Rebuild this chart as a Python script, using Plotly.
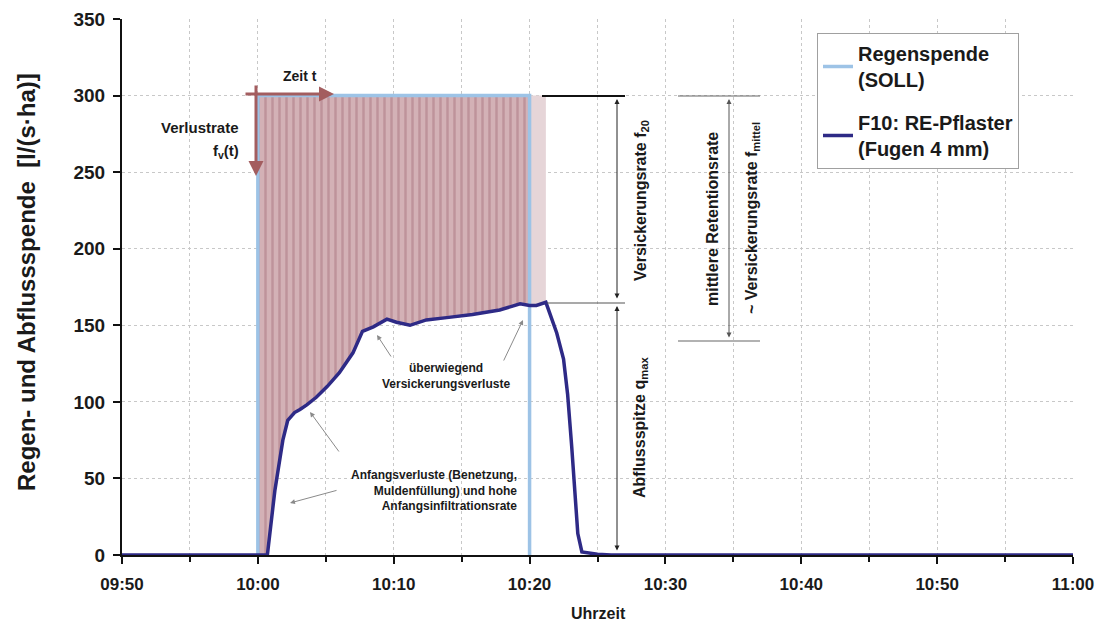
import pandas as pd
import plotly.graph_objects as go

# ---------------- data ----------------
# minutes relative to 10:00
rain_min = [0, 0, 20, 20]
rain_val = [0, 300, 300, 0]

runoff_min = [-10, 0, 0.7, 1.25, 1.84, 2.2, 2.7, 3.1, 3.6, 4.3, 5.1, 6.0, 7.0, 7.7,
              8.5, 9.5, 10.2, 11.2, 12.4, 13.9, 15.8, 17.8, 19.3, 20.0, 20.5, 21.2,
              22.0, 22.5, 22.8, 23.1, 23.35, 23.55, 23.85, 25.0, 26.0, 60]
runoff_val = [0, 0, 0, 42, 75, 88, 93, 95, 98, 103, 110, 119, 132, 146,
              149, 154, 152, 150, 153.5, 155, 157, 160, 164, 163, 163, 165,
              145, 128, 105, 71, 38, 14, 2, 0.5, 0, 0]

rain_level = 300
rain_end = 20
fill_end = 21.2

t0 = pd.Timestamp("2024-01-01 10:00")
def T(m):
    return [t0 + pd.Timedelta(minutes=v) for v in m]

# ---------------- fill polygons ----------------
main_x = [0] + [m for m in runoff_min if 0 <= m <= rain_end] + [rain_end]
main_y = [rain_level] + [v for m, v in zip(runoff_min, runoff_val) if 0 <= m <= rain_end] + [rain_level]
tail_x = [rain_end] + [m for m in runoff_min if rain_end <= m <= fill_end] + [fill_end]
tail_y = [rain_level] + [v for m, v in zip(runoff_min, runoff_val) if rain_end <= m <= fill_end] + [rain_level]

FONT = "Liberation Sans, Arial, sans-serif"

fig = go.Figure()
fig.add_trace(go.Scatter(x=T(main_x), y=main_y, mode="lines", line=dict(width=0),
                         fill="toself", fillcolor="#D2AFB4",
                         fillpattern=dict(shape="|", bgcolor="#D3B1B6", fgcolor="#BE939B",
                                          size=7, solidity=0.35, fillmode="replace"),
                         showlegend=False, hoverinfo="skip"))
fig.add_trace(go.Scatter(x=T(tail_x), y=tail_y, mode="lines", line=dict(width=0),
                         fill="toself", fillcolor="#E6D5D8",
                         showlegend=False, hoverinfo="skip"))
fig.add_trace(go.Scatter(x=T(rain_min), y=rain_val, mode="lines",
                         line=dict(color="#9DC3E6", width=3.5), legendgroup="a",
                         name="Regenspende<br>(SOLL)"))
fig.add_trace(go.Scatter(x=T(runoff_min), y=runoff_val, mode="lines",
                         line=dict(color="#2E2A86", width=3.5), legendgroup="b",
                         name="F10: RE-Pflaster<br>(Fugen 4 mm)"))

# page pixel -> paper helpers (page has an 8px body margin)
OFF = 8
W, H = 1103 - 2 * OFF, 632 - 2 * OFF
L, R, TOP, BOT = 122, 1073, 19, 555
def xp(px): return (px - L) / (R - L)
def yp(py): return (BOT - py) / (BOT - TOP)

ann = []
def text(px, py, s, size=12, xanchor="center", angle=0, align="center", yanchor="middle"):
    ann.append(dict(x=xp(px), y=yp(py), xref="paper", yref="paper", text=s, showarrow=False,
                    xanchor=xanchor, yanchor=yanchor, textangle=angle, align=align,
                    font=dict(family=FONT, size=size, color="#1a1a1a", weight="bold")))
def arrow(hx, hy, tx, ty, color="#8a8a8a", width=1, head=2, side="end", size=1):
    ann.append(dict(x=xp(hx), y=yp(hy), xref="paper", yref="paper", text="", showarrow=True,
                    ax=tx - hx, ay=ty - hy, axref="pixel", ayref="pixel",
                    arrowcolor=color, arrowwidth=width, arrowhead=head, arrowsize=size,
                    arrowside=side, startarrowhead=head, startarrowsize=size))

# rose arrows
arrow(334, 94, 244, 94, color="#A35D5F", width=3, head=2, size=1)
arrow(256, 176, 256, 84, color="#A35D5F", width=3, head=2, size=1)
text(300, 76, "Zeit t", size=14)
text(241, 127, "Verlustrate", size=15, xanchor="right")
text(241, 152, "f<sub>v</sub>(t)", size=15, xanchor="right")

# middle annotations
text(446, 376, "überwiegend<br>Versickerungsverluste", size=12)
arrow(377, 335, 392, 358)
arrow(523, 320, 503, 362)
text(519, 490, "Anfangsverluste (Benetzung,<br>Muldenfüllung) und hohe<br>Anfangsinfiltrationsrate",
     size=12, xanchor="right", align="right")
arrow(310, 412, 340, 453)
arrow(290, 503, 338, 490)

# right annotations
arrow(617, 99, 617, 300, color="#222", width=1, head=2, side="end+start", size=1)
arrow(617, 306, 617, 552, color="#222", width=1, head=2, side="end+start", size=1)
arrow(729, 99, 729, 339, color="#555", width=1, head=2, side="end+start", size=1)
text(641, 201, "Versickerungsrate f<sub>20</sub>", size=16, angle=-90)
text(640, 428, "Abflussspitze q<sub>max</sub>", size=16, angle=-90)
text(713, 219, "mittlere Retentionsrate", size=16, angle=-90)
text(752, 218, "~ Versickerungsrate f<sub>mittel</sub>", size=16, angle=-90)

# axis titles
text(27, 282, "Regen- und Abflussspende  [l/(s·ha)]", size=24, angle=-90)
text(598, 624, "Uhrzeit", size=16, yanchor="bottom")

shapes = [
    dict(type="line", xref="paper", yref="paper", x0=xp(542), x1=xp(625), y0=yp(96), y1=yp(96),
         line=dict(color="#111", width=2)),
    dict(type="line", xref="paper", yref="paper", x0=xp(547), x1=xp(625), y0=yp(303), y1=yp(303),
         line=dict(color="#555", width=1.2)),
    dict(type="line", xref="paper", yref="paper", x0=xp(678), x1=xp(760), y0=yp(96), y1=yp(96),
         line=dict(color="#666", width=1.2)),
    dict(type="line", xref="paper", yref="paper", x0=xp(678), x1=xp(760), y0=yp(341), y1=yp(341),
         line=dict(color="#666", width=1.2)),
]

fig.update_layout(
    width=W, height=H,
    margin=dict(l=L - OFF, r=W - (R - OFF), t=TOP - OFF, b=H - (BOT - OFF), autoexpand=False),
    plot_bgcolor="white", paper_bgcolor="white",
    font=dict(family=FONT, color="#1a1a1a"),
    annotations=ann, shapes=shapes,
    legend=dict(x=xp(817), y=yp(33), xanchor="left", yanchor="top",
                bgcolor="white", bordercolor="#A0A0A0", borderwidth=1,
                font=dict(family=FONT, size=20, color="#1a1a1a", weight="bold"),
                itemwidth=30, tracegroupgap=14),
)
fig.update_xaxes(
    type="date", range=[t0 - pd.Timedelta(minutes=10), t0 + pd.Timedelta(minutes=60)],
    dtick=10 * 60 * 1000, tick0=t0, tickformat="%H:%M",
    showline=True, linecolor="#111", linewidth=2, mirror=False,
    ticks="outside", ticklen=7, tickwidth=2, tickcolor="#111", ticklabelstandoff=6,
    ticklabeloverflow="allow",
    tickfont=dict(family=FONT, size=17, color="#1a1a1a", weight="bold"),
    showgrid=True, gridcolor="#C8C8C8", griddash="dot", gridwidth=1,
    minor=dict(dtick=5 * 60 * 1000, ticks="outside", ticklen=5, tickwidth=2, tickcolor="#111",
               showgrid=True, gridcolor="#C8C8C8", griddash="dot"),
    zeroline=False,
)
fig.update_yaxes(
    range=[0, 350], dtick=50,
    showline=True, linecolor="#111", linewidth=2,
    ticks="outside", ticklen=7, tickwidth=2, tickcolor="#111", ticklabelstandoff=4,
    tickfont=dict(family=FONT, size=19, color="#1a1a1a", weight="bold"),
    showgrid=True, gridcolor="#C8C8C8", griddash="dot", gridwidth=1,
    zeroline=False,
)

fig.write_html("out.html")
